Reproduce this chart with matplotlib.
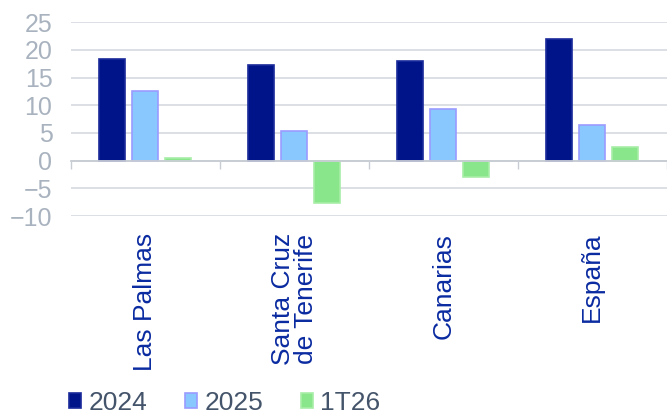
import matplotlib
matplotlib.use("Agg")
import matplotlib.pyplot as plt
import numpy as np
from matplotlib.ticker import FixedLocator

plt.rcParams['font.family'] = ['Liberation Sans', 'DejaVu Sans']

categories = ["Las Palmas", "Santa Cruz\nde Tenerife", "Canarias", "España"]
series_names = ["2024", "2025", "1T26"]
v2024 = [18.3, 17.3, 17.9, 22.0]
v2025 = [12.5, 5.3, 9.3, 6.4]
v1t26 = [0.5, -7.6, -3.0, 2.5]
yticks = [-10, -5, 0, 5, 10, 15, 20, 25]

fills = ["#001489", "#88C8FF", "#8AE68A"]
edges = ["#1A2A9A", "#9B9BFF", "#A8EEA8"]

fig = plt.figure(figsize=(6.67, 4.17), dpi=100)
ax = fig.add_axes([0.1057, 0.482, 0.894, 0.465])

x = np.arange(len(categories))
width = 0.175
step = 0.222
for i, (vals, fc, ec, name) in enumerate(zip([v2024, v2025, v1t26], fills, edges, series_names)):
    ax.bar(x + (i - 1) * step, vals, width, color=fc, edgecolor=ec, linewidth=1.2,
           label=name, zorder=3)

ax.set_xlim(-0.5, len(categories) - 0.5)
ax.set_ylim(-10, 25)
ax.set_yticks(yticks)
ax.grid(axis='y', color='#D9DDE3', linewidth=1.3, zorder=0)
ax.tick_params(axis='y', length=0, pad=13, labelsize=18, labelcolor='#A9B3BF')

for s in ['top', 'right', 'left']:
    ax.spines[s].set_visible(False)
ax.spines['bottom'].set_position(('data', 0))
ax.spines['bottom'].set_color('#C8CDD4')
ax.spines['bottom'].set_linewidth(1.3)
ax.spines['bottom'].set_zorder(4)

ax.set_xticks(x)
ax.set_xticklabels(categories, rotation=90, va='top', ha='center',
                   multialignment='center', fontsize=19, color='#0A2AA0',
                   linespacing=0.95)
ax.tick_params(axis='x', which='major', length=0, pad=52)
ax.xaxis.set_minor_locator(FixedLocator(np.arange(-0.5, len(categories), 1.0)))
ax.tick_params(axis='x', which='minor', length=6, width=1, color='#C8CDD4')

fig.legend(loc='lower left', bbox_to_anchor=(0.068, -0.052), ncol=3, frameon=False,
           fontsize=19, labelcolor='#44546A', handlelength=0.46, handleheight=0.46,
           handletextpad=0.27, columnspacing=1.44)

fig.savefig("out.png", dpi=100)
